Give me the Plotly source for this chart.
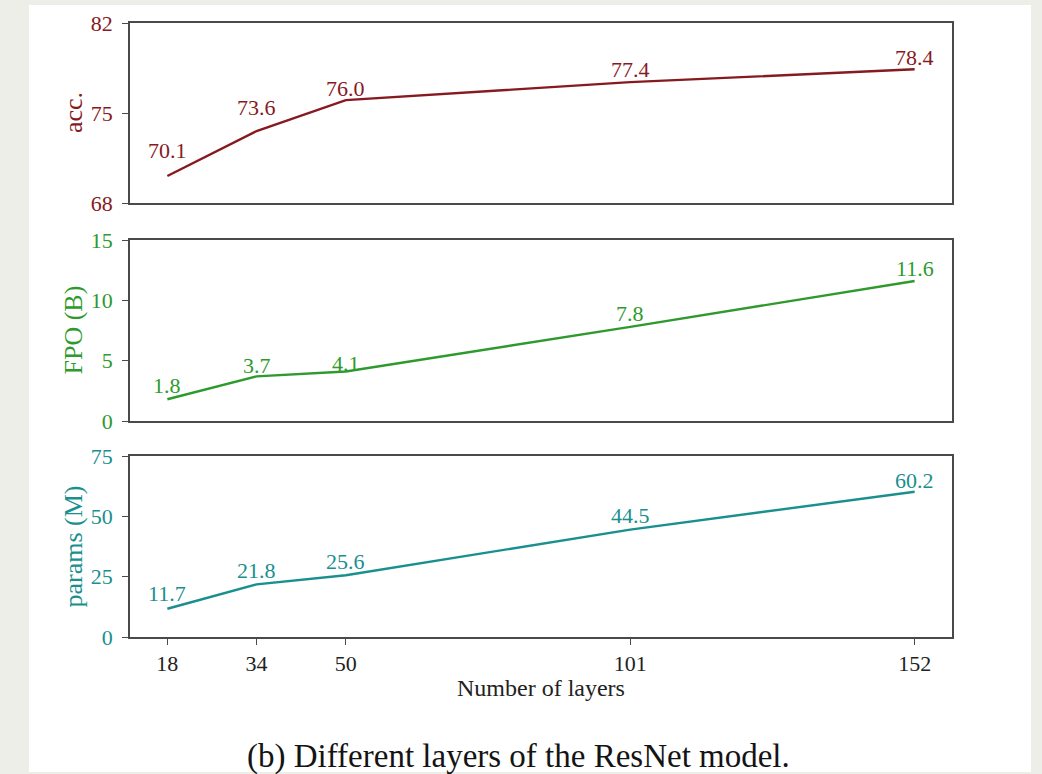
import plotly.graph_objects as go

# ResNet depth vs accuracy, FLOPs and parameter count
layers = [18, 34, 50, 101, 152]
acc = [70.1, 73.6, 76.0, 77.4, 78.4]
fpo = [1.8, 3.7, 4.1, 7.8, 11.6]
params = [11.7, 21.8, 25.6, 44.5, 60.2]

W, H = 1042, 774
FONT = "Liberation Serif, Times New Roman, serif"
SPINE = "#4a4a4a"
C_ACC = "#861a1f"
C_FPO = "#2e9a2e"
C_PAR = "#1a8f8f"


def px_x(p):
    return p / W


def px_y(p):
    return 1 - p / H


x_dom = [px_x(130), px_x(952)]
panels = [
    # (values, color, title, y range, tick values, top px, bottom px, label pixel offsets)
    (acc, C_ACC, "acc.", [68, 82], [68, 75, 82], 23, 203, [26, 24, 12, 13, 12]),
    (fpo, C_FPO, "FPO (B)", [0, 15], [0, 5, 10, 15], 240, 421, [14, 11, 8, 13, 13]),
    (params, C_PAR, "params (M)", [0, 75], [0, 25, 50, 75], 456, 637, [15, 14, 14, 14, 11]),
]

fig = go.Figure()
annotations = []
layout_axes = {}

for i, (vals, color, title, yr, ytv, top, bot, offs) in enumerate(panels, start=1):
    sfx = "" if i == 1 else str(i)
    xa, ya = "x" + sfx, "y" + sfx
    fig.add_trace(go.Scatter(
        x=layers, y=vals, mode="lines", xaxis=xa, yaxis=ya,
        line=dict(color=color, width=2.4), showlegend=False, hoverinfo="skip",
    ))
    layout_axes["xaxis" + sfx] = dict(
        domain=x_dom, anchor=ya, range=[11.3, 158.7], automargin=False,
        tickvals=layers if i == 3 else [], ticktext=[str(v) for v in layers] if i == 3 else [],
        showticklabels=(i == 3), ticks="outside" if i == 3 else "",
        ticklen=6, tickwidth=1.3, tickcolor=SPINE, ticklabelstandoff=0,
        tickfont=dict(family=FONT, size=22, color="#222222"),
        showline=True, linecolor=SPINE, linewidth=1.5, mirror=True,
        showgrid=False, zeroline=False, fixedrange=True,
    )
    layout_axes["yaxis" + sfx] = dict(
        domain=[px_y(bot), px_y(top)], anchor=xa, range=yr, tickvals=ytv, automargin=False,
        ticks="outside", ticklen=6, tickwidth=1.3, tickcolor=SPINE, ticklabelstandoff=5,
        tickfont=dict(family=FONT, size=22, color=color),
        showline=True, linecolor=SPINE, linewidth=1.5, mirror=True,
        showgrid=False, zeroline=False, fixedrange=True,
    )
    # value labels above each point
    for xv, yv, off in zip(layers, vals, offs):
        annotations.append(dict(
            x=xv, y=yv, xref=xa, yref=ya, text=f"{yv:.1f}", showarrow=False,
            xanchor="center", yanchor="middle", yshift=off,
            font=dict(family=FONT, size=22, color=color),
        ))
    # y-axis title
    annotations.append(dict(
        x=px_x(73), y=px_y((top + bot) / 2), xref="paper", yref="paper",
        text=title, showarrow=False, textangle=-90,
        xanchor="center", yanchor="middle",
        font=dict(family=FONT, size=26, color=color),
    ))

annotations.append(dict(
    x=px_x(541), y=px_y(688), xref="paper", yref="paper", text="Number of layers",
    showarrow=False, xanchor="center", yanchor="middle",
    font=dict(family=FONT, size=24, color="#222222"),
))
annotations.append(dict(
    x=px_x(518), y=px_y(756), xref="paper", yref="paper",
    text="(b) Different layers of the ResNet model.",
    showarrow=False, xanchor="center", yanchor="middle",
    font=dict(family=FONT, size=33, color="#141414"),
))

fig.update_layout(
    width=W, height=H, autosize=False,
    margin=dict(l=0, r=0, t=0, b=0, pad=0),
    paper_bgcolor="#eeeee9", plot_bgcolor="white",
    annotations=annotations,
    shapes=[dict(
        type="rect", xref="paper", yref="paper", layer="below",
        x0=px_x(29), x1=px_x(1031), y0=px_y(772), y1=px_y(5),
        fillcolor="white", line=dict(width=0),
    )],
    **layout_axes,
)

fig.write_html("out.html")
